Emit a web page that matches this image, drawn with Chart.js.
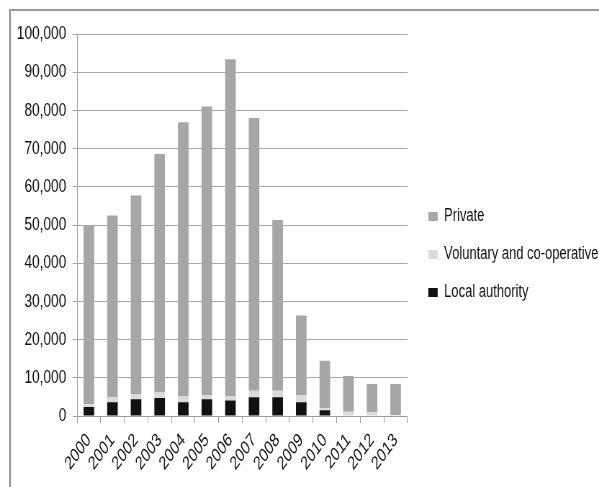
<!DOCTYPE html>
<html>
<head>
<meta charset="utf-8">
<script src="https://cdn.jsdelivr.net/npm/chart.js@4/dist/chart.umd.min.js"></script>
<style>
  html, body { margin: 0; padding: 0; background: #fff; overflow: hidden; }
  #wrap { position: relative; width: 599px; height: 487px; overflow: hidden; }
  #frame { position: absolute; left: 9px; top: 9px; width: 700px; height: 600px; border: 2px solid #9a9a9a; box-sizing: border-box; }
  #c { position: absolute; left: 0; top: 0; transform: scaleX(0.72); transform-origin: 0 0; }
</style>
</head>
<body>
<div id="wrap">
  <div id="frame"></div>
  <canvas id="c" width="832" height="487"></canvas>
</div>
<script>
const years = ['2000','2001','2002','2003','2004','2005','2006','2007','2008','2009','2010','2011','2012','2013'];
const localAuthority = [2350, 3570, 4360, 4700, 3570, 4360, 4090, 4880, 4880, 3570, 1480, 0, 0, 0];
const voluntary = [750, 1310, 1380, 1480, 1650, 1120, 1130, 1720, 1720, 1910, 520, 1100, 1000, 250];
const privateSector = [46900, 47620, 51960, 62420, 71680, 75520, 88180, 71400, 44700, 20820, 12440, 9340, 7350, 8100];
const yTicks = [0, 10000, 20000, 30000, 40000, 50000, 60000, 70000, 80000, 90000, 100000];

const FONT = "'Liberation Sans', Arial, sans-serif";

const legendShift = {
  id: 'legendShift',
  afterLayout(chart) {
    const lg = chart.legend;
    if (!lg) return;
    lg.left += 9; lg.right += 9;
    lg.top -= 6; lg.bottom -= 6;
  }
};

new Chart(document.getElementById('c'), {
  type: 'bar',
  data: {
    labels: years,
    datasets: [
      { label: 'Local authority', data: localAuthority, backgroundColor: '#111111', barPercentage: 0.45, categoryPercentage: 1 },
      { label: 'Voluntary and co-operative', data: voluntary, backgroundColor: '#dadada', barPercentage: 0.45, categoryPercentage: 1 },
      { label: 'Private', data: privateSector, backgroundColor: '#a6a6a6', barPercentage: 0.45, categoryPercentage: 1 }
    ]
  },
  plugins: [legendShift],
  options: {
    responsive: false,
    animation: false,
    layout: { padding: { left: 0, top: 34, right: 0, bottom: 0 } },
    plugins: {
      tooltip: { enabled: false },
      legend: {
        position: 'right',
        reverse: true,
        maxWidth: 267,
        labels: {
          font: { family: FONT, size: 18 },
          color: '#111',
          boxWidth: 13,
          boxHeight: 9,
          padding: 20
        }
      }
    },
    scales: {
      x: {
        stacked: true,
        grid: { drawOnChartArea: false, drawTicks: true, tickLength: 7, color: '#9a9a9a' },
        border: { color: '#9a9a9a' },
        ticks: { autoSkip: false, maxRotation: 45, minRotation: 45, font: { family: FONT, size: 19 }, color: '#111', padding: 6 },
        afterFit: (s) => { s.height = 71; }
      },
      y: {
        stacked: true,
        min: 0,
        max: 100000,
        afterBuildTicks: (s) => { s.ticks = yTicks.map(v => ({ value: v })); },
        grid: { color: '#a8a8a8', tickLength: 6 },
        border: { color: '#9a9a9a' },
        ticks: {
          font: { family: FONT, size: 19 },
          color: '#111',
          padding: 9,
          callback: (v) => Number(v).toLocaleString('en-US')
        },
        afterFit: (s) => { s.width = 107; }
      }
    }
  }
});
</script>
</body>
</html>
